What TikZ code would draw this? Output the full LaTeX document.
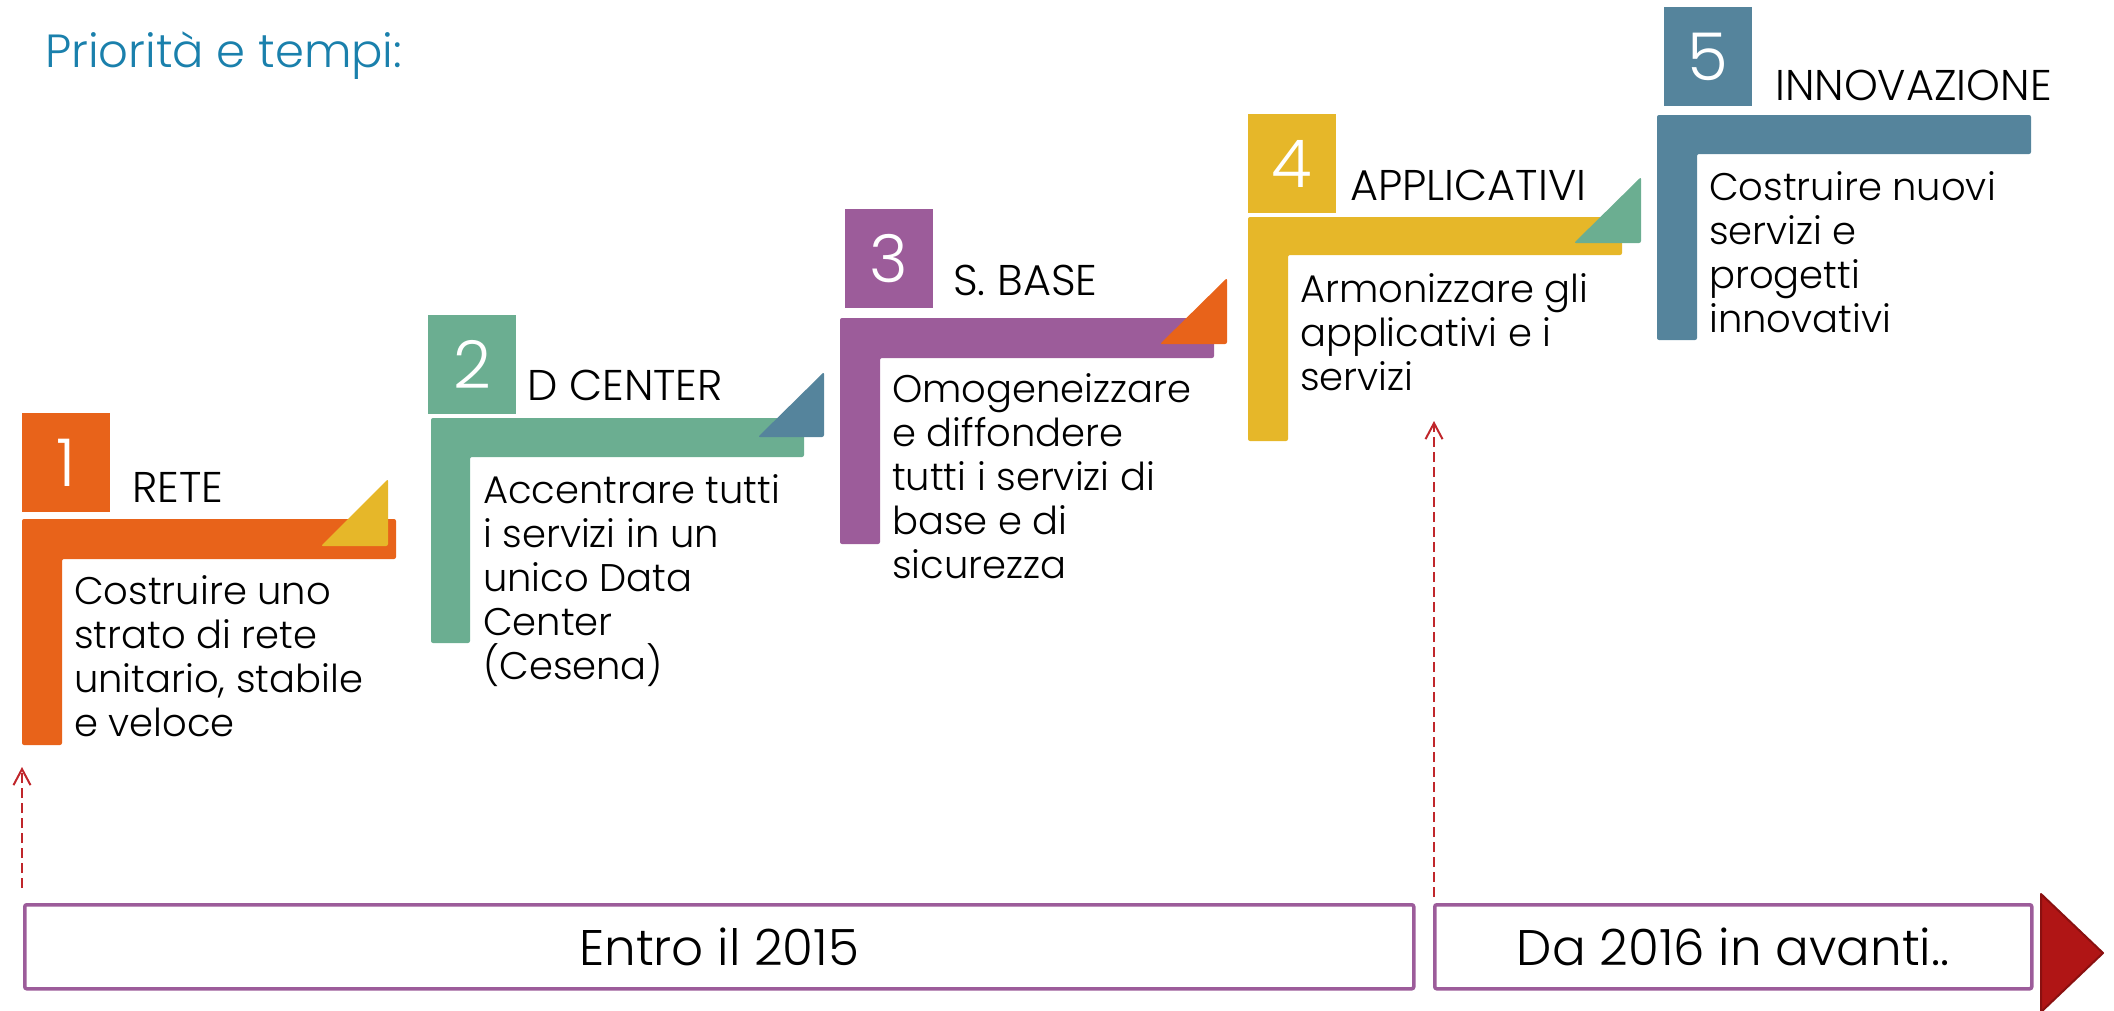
\documentclass[tikz,border=0pt]{standalone}
\usepackage{fontspec}
\setmainfont{Poppins Light}
\newfontfamily\lightfont{Poppins Light}
\usetikzlibrary{arrows.meta}
\definecolor{cOrange}{HTML}{E8631A}
\definecolor{cYellow}{HTML}{E6B729}
\definecolor{cGreen}{HTML}{6BAE91}
\definecolor{cPurple}{HTML}{9C5C9A}
\definecolor{cBlue}{HTML}{55849C}
\definecolor{cTitle}{HTML}{1A80AC}
\definecolor{cRed}{HTML}{B01515}
\definecolor{cRedDark}{HTML}{8A1010}
\definecolor{cDash}{HTML}{C0262B}
\begin{document}
\begin{tikzpicture}[x=1pt,y=-1pt,
  numbox/.style={fill=#1, minimum width=88pt, minimum height=99pt, inner sep=0pt,
    text=white, font=\lightfont\fontsize{66}{66}\selectfont, anchor=north west},
  steptitle/.style={anchor=base west, inner sep=0pt, font=\fontsize{43}{43}\selectfont},
  stepbody/.style={anchor=base west, inner sep=0pt, align=left,
    font=\fontsize{38.5}{44}\selectfont},
  ell/.style={fill=#1, rounded corners=2pt},
  corner/.style={fill=#1, rounded corners=2pt},
  tlbox/.style={draw=cPurple, line width=3.5pt, rounded corners=2pt, anchor=north west,
    minimum height=84pt, inner sep=0pt, font=\lightfont\fontsize{50}{50}\selectfont},
  dasharrow/.style={draw=cDash, line width=2pt, dash pattern=on 10pt off 5pt,
    -{Straight Barb[length=16pt,width=17pt,line width=2pt]}}
]
\useasboundingbox (0,0) rectangle (2114,1010);

% heading
\node[anchor=base west, inner sep=0pt, text=cTitle, font=\fontsize{46.5}{46.5}\selectfont]
  (heading) at (45,67) {Priorità e tempi:};

% ---- step 1 (body anchored at the baseline of its last line)
\fill[ell=cOrange] (22,519) -- (396,519) -- (396,559) -- (62,559) -- (62,745) -- (22,745) -- cycle;
\fill[corner=cYellow] (321,546) -- (388,479) -- (388,546) -- cycle;
\node[numbox=cOrange] (n1) at (22,413) {1};
\node[steptitle] (t1) at (132,502) {RETE};
\node[stepbody] (b1) at (74,736) {Costruire uno\\strato di rete\\unitario, stabile\\e veloce};

% ---- step 2
\fill[ell=cGreen] (431,418) -- (804,418) -- (804,457) -- (470,457) -- (470,643) -- (431,643) -- cycle;
\fill[corner=cBlue] (758,437) -- (824,372) -- (824,437) -- cycle;
\node[numbox=cGreen] (n2) at (428,315) {2};
\node[steptitle] (t2) at (527,400) {D CENTER};
\node[stepbody] (b2) at (483,679) {Accentrare tutti\\i servizi in un\\unico Data\\Center\\(Cesena)};

% ---- step 3
\fill[ell=cPurple] (840,318) -- (1214,318) -- (1214,358) -- (880,358) -- (880,544) -- (840,544) -- cycle;
\fill[corner=cOrange] (1160,344) -- (1227,278) -- (1227,344) -- cycle;
\node[numbox=cPurple] (n3) at (845,209) {3};
\node[steptitle] (t3) at (953,295) {S. BASE};
\node[stepbody] (b3) at (892,578) {Omogeneizzare\\e diffondere\\tutti i servizi di\\base e di\\sicurezza};

% ---- step 4
\fill[ell=cYellow] (1248,217) -- (1622,217) -- (1622,255) -- (1288,255) -- (1288,441) -- (1248,441) -- cycle;
\fill[corner=cGreen] (1574,243) -- (1641,177) -- (1641,243) -- cycle;
\node[numbox=cYellow] (n4) at (1248,114) {4};
\node[steptitle] (t4) at (1350,200) {APPLICATIVI};
\node[stepbody] (b4) at (1300,390) {Armonizzare gli\\applicativi e i\\servizi};

% ---- step 5
\fill[ell=cBlue] (1657,115) -- (2031,115) -- (2031,154) -- (1697,154) -- (1697,340) -- (1657,340) -- cycle;
\node[numbox=cBlue] (n5) at (1664,7) {5};
\node[steptitle] (t5) at (1775,100) {INNOVAZIONE};
\node[stepbody] (b5) at (1709,332) {Costruire nuovi\\servizi e\\progetti\\innovativi};

% ---- timeline
\node[tlbox, minimum width=1389pt] (p1) at (23,903) {Entro il 2015};
\node[tlbox, minimum width=597pt] (p2) at (1433,903) {Da 2016 in avanti..};
\filldraw[fill=cRed, draw=cRedDark, line width=2pt, line join=round]
  (2041,894) -- (2103,953) -- (2041,1012) -- cycle;

% ---- dashed arrows
\coordinate (a1s) at (22,888);
\coordinate (a1e) at (22,767);
\coordinate (a2s) at (1434,897);
\coordinate (a2e) at (1434,421);
\draw[dasharrow] (a1s) -- (a1e);
\draw[dasharrow] (a2s) -- (a2e);
\end{tikzpicture}
\end{document}
